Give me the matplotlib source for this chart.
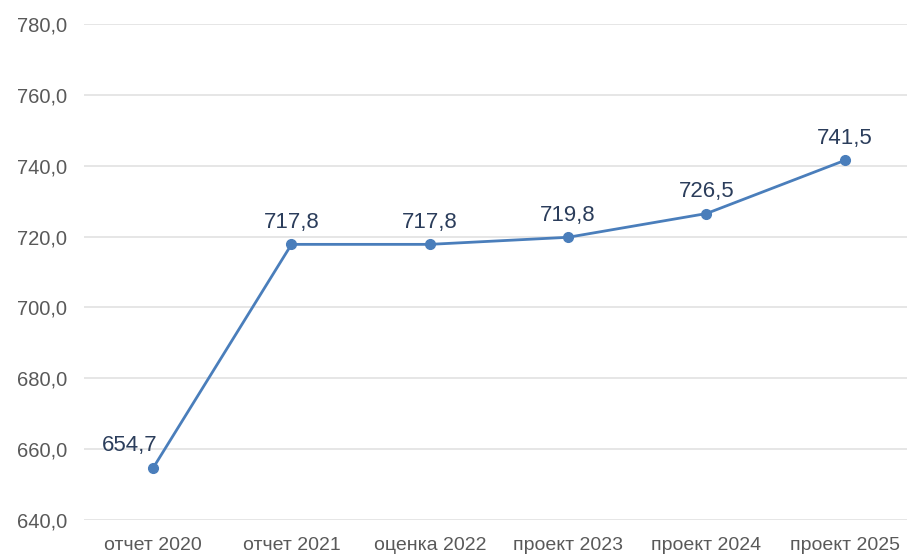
import matplotlib
matplotlib.use("Agg")
import matplotlib.pyplot as plt

categories = ["отчет 2020", "отчет 2021", "оценка 2022", "проект 2023", "проект 2024", "проект 2025"]
values = [654.7, 717.8, 717.8, 719.8, 726.5, 741.5]
y_ticks = [640, 660, 680, 700, 720, 740, 760, 780]

plt.rcParams['font.family'] = ['Liberation Sans', 'DejaVu Sans']

fig = plt.figure(figsize=(9.07, 5.58), dpi=100)
ax = fig.add_axes([84/907, 38/558, 1 - 84/907, (520-24)/558])

x = list(range(len(categories)))
ax.plot(x, values, color='#4a7ebb', linewidth=2.0, marker='o', markersize=7,
        solid_capstyle='round', zorder=3)

for i, v in enumerate(values):
    lbl = f"{v:.1f}".replace('.', ',')
    dx = -17 if i == 0 else 0
    ax.annotate(lbl, (i, v), xytext=(dx, 16), textcoords='offset points',
                ha='center', va='center', fontsize=16, color='#2b3d5b')

ax.set_ylim(640, 780)
ax.set_xlim(-0.5, 5.45)
ax.set_yticks(y_ticks)
ax.set_yticklabels([f"{t:.1f}".replace('.', ',') for t in y_ticks])
ax.set_xticks(x)
ax.set_xticklabels(categories)
ax.grid(axis='y', color='#e4e4e4', linewidth=1.3)
ax.set_axisbelow(True)
for s in ax.spines.values():
    s.set_visible(False)
ax.tick_params(axis='both', length=0, colors='#595959', labelsize=14.5)
ax.tick_params(axis='y', pad=12)
ax.tick_params(axis='x', pad=12, labelsize=14)

fig.savefig('out.png', dpi=100, facecolor='white')
